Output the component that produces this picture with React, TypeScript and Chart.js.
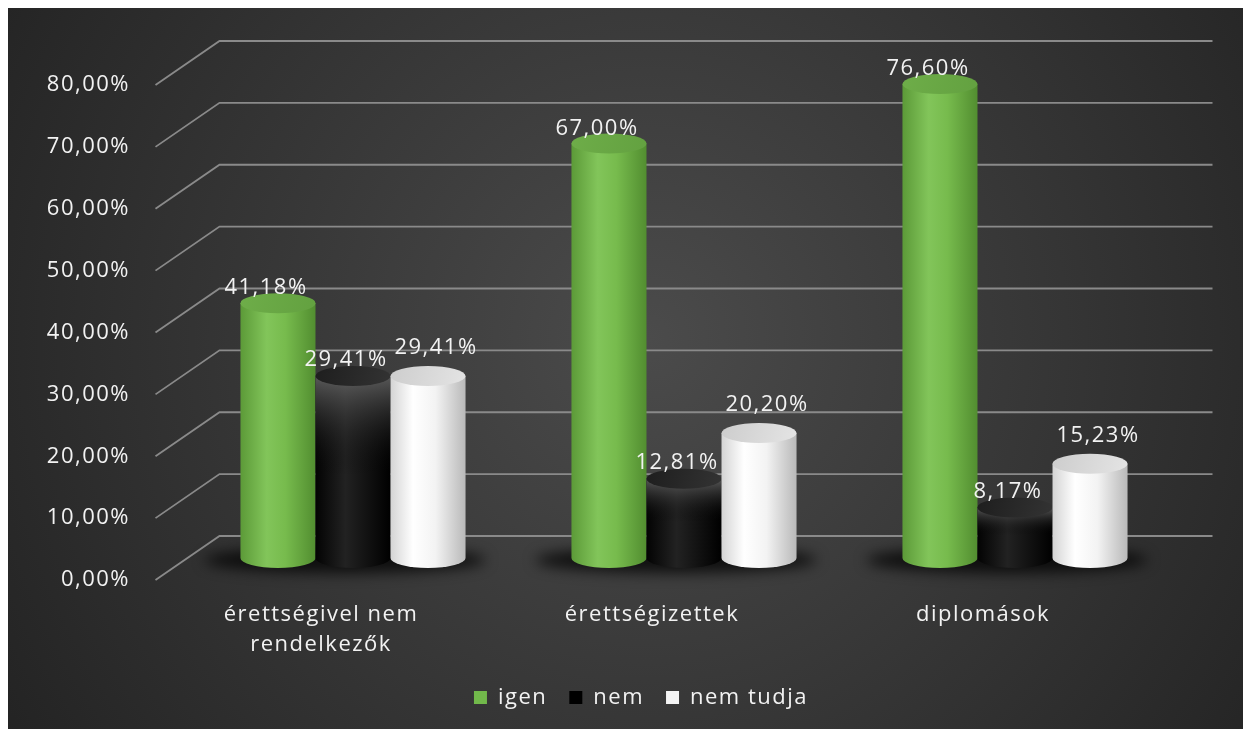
import React, { useEffect, useRef } from 'react';
import { Chart, registerables } from 'chart.js';

Chart.register(...registerables);

// ---- data ----
const categories: (string | string[])[] = [['érettségivel nem', 'rendelkezők'], 'érettségizettek', 'diplomások'];
const seriesNames = ['igen', 'nem', 'nem tudja'];
const igenValues = [41.18, 67.0, 76.6];
const nemValues = [29.41, 12.81, 8.17];
const nemTudjaValues = [29.41, 20.2, 15.23];
const yMin = 0;
const yMax = 80;
const yStep = 10;

// ---- styling ----
const FONT = '"Open Sans", Lato, sans-serif';
const FONT_SIZE = 22;
const LETTER_SPACING = '1.5px';
const TEXT = '#f2f2f2';
const DEPTH_X = 64;
const DEPTH_Y = 44;
const legendColors = ['#72b94b', '#000000', '#f4f4f4'];
const labelOffsets = [
  { dx: -12, dy: -15 },
  { dx: -7, dy: -16 },
  { dx: 8, dy: -28 },
];

const fmt = (v: number) => v.toFixed(2).replace('.', ',') + '%';

function bodyPath(ctx: CanvasRenderingContext2D, cx: number, top: number, base: number, rx: number, ry: number) {
  ctx.beginPath();
  ctx.moveTo(cx - rx, top);
  ctx.lineTo(cx - rx, base);
  ctx.ellipse(cx, base, rx, ry, 0, Math.PI, 0, true);
  ctx.lineTo(cx + rx, top);
  ctx.closePath();
}

function drawCylinder(ctx: CanvasRenderingContext2D, kind: number, cx: number, top: number, base: number, rx: number, ry: number) {
  const left = cx - rx;
  const right = cx + rx;
  ctx.save();
  bodyPath(ctx, cx, top, base, rx, ry);
  const h = ctx.createLinearGradient(left, 0, right, 0);
  let cap: CanvasGradient;
  if (kind === 0) {
    h.addColorStop(0, '#5c9a38');
    h.addColorStop(0.35, '#82c55a');
    h.addColorStop(0.6, '#77bb4d');
    h.addColorStop(1, '#528e30');
    ctx.fillStyle = h;
    ctx.fill();
    cap = ctx.createLinearGradient(left, top - ry, right, top + ry);
    cap.addColorStop(0, '#6ead49');
    cap.addColorStop(1, '#63a140');
  } else if (kind === 1) {
    h.addColorStop(0, '#030303');
    h.addColorStop(0.4, '#222222');
    h.addColorStop(1, '#000000');
    ctx.fillStyle = h;
    ctx.fill();
    const v = ctx.createLinearGradient(0, top, 0, top + (base - top) * 0.55);
    v.addColorStop(0, 'rgba(110,110,110,0.8)');
    v.addColorStop(1, 'rgba(0,0,0,0)');
    ctx.fillStyle = v;
    ctx.fill();
    cap = ctx.createLinearGradient(left, top - ry, right, top + ry);
    cap.addColorStop(0, '#1e1e1e');
    cap.addColorStop(1, '#333333');
  } else {
    h.addColorStop(0, '#d4d4d4');
    h.addColorStop(0.3, '#ffffff');
    h.addColorStop(0.6, '#f3f3f3');
    h.addColorStop(1, '#b9b9b9');
    ctx.fillStyle = h;
    ctx.fill();
    cap = ctx.createLinearGradient(left, top - ry, right, top + ry);
    cap.addColorStop(0, '#cdcdcd');
    cap.addColorStop(1, '#e4e4e4');
  }
  ctx.beginPath();
  ctx.ellipse(cx, top, rx, ry, 0, 0, Math.PI * 2);
  ctx.fillStyle = cap;
  ctx.fill();
  ctx.restore();
}

const scenePlugin = {
  id: 'scene3d',
  afterInit(chart: any) {
    chart.ctx.letterSpacing = LETTER_SPACING;
  },
  beforeDraw(chart: any) {
    const { ctx, width, height, chartArea } = chart;
    ctx.letterSpacing = LETTER_SPACING;
    ctx.save();
    const g = ctx.createRadialGradient(640, 330, 0, 640, 330, 760);
    g.addColorStop(0, '#4b4b4b');
    g.addColorStop(1, '#232323');
    ctx.fillStyle = g;
    ctx.fillRect(0, 0, width, height);

    const y = chart.scales.y;
    ctx.strokeStyle = '#8a8a8a';
    ctx.lineWidth = 1.8;
    y.ticks.forEach((t: any) => {
      const py = y.getPixelForValue(t.value);
      ctx.beginPath();
      ctx.moveTo(chartArea.left, py);
      ctx.lineTo(chartArea.left + DEPTH_X, py - DEPTH_Y);
      ctx.lineTo(chartArea.right + DEPTH_X, py - DEPTH_Y);
      ctx.stroke();
    });
    ctx.restore();
  },
  beforeDatasetsDraw(chart: any) {
    const { ctx } = chart;
    const metas = chart.data.datasets.map((_: any, i: number) => chart.getDatasetMeta(i));
    const mx = DEPTH_X / 2;
    const my = DEPTH_Y / 2;
    const ry = 10;
    const n = chart.data.labels.length;
    ctx.save();
    // shadows
    for (let i = 0; i < n; i++) {
      const first = metas[0].data[i];
      const last = metas[metas.length - 1].data[i];
      const l = first.x - first.width / 2 + mx;
      const r = last.x + last.width / 2 + mx;
      const base = first.base - my;
      ctx.save();
      ctx.filter = 'blur(7px)';
      ctx.fillStyle = 'rgba(0,0,0,0.75)';
      ctx.beginPath();
      ctx.ellipse((l + r) / 2 - 8, base + 2, (r - l) / 2 + 28, 13, 0, 0, Math.PI * 2);
      ctx.fill();
      ctx.restore();
    }
    // cylinders
    for (let i = 0; i < n; i++) {
      metas.forEach((m: any, k: number) => {
        const el = m.data[i];
        const cx = el.x + mx;
        drawCylinder(ctx, k, cx, el.y - my, el.base - my, el.width / 2, ry);
      });
    }
    // value labels
    ctx.font = `${FONT_SIZE}px ${FONT}`;
    ctx.fillStyle = TEXT;
    ctx.textAlign = 'center';
    ctx.textBaseline = 'middle';
    metas.forEach((m: any, k: number) => {
      const ds = chart.data.datasets[k];
      m.data.forEach((el: any, i: number) => {
        const o = labelOffsets[k];
        ctx.fillText(fmt(ds.data[i]), el.x + mx + o.dx, el.y - my + o.dy);
      });
    });
    ctx.restore();
    return false;
  },
};

export default function App() {
  const ref = useRef<HTMLCanvasElement>(null);
  useEffect(() => {
    document.documentElement.style.overflow = 'hidden';
    Chart.defaults.font.family = FONT;
    const chart = new Chart(ref.current as HTMLCanvasElement, {
      type: 'bar',
      data: {
        labels: categories as any,
        datasets: [
          { label: seriesNames[0], data: igenValues, backgroundColor: legendColors[0], borderWidth: 0 },
          { label: seriesNames[1], data: nemValues, backgroundColor: legendColors[1], borderWidth: 0 },
          { label: seriesNames[2], data: nemTudjaValues, backgroundColor: legendColors[2], borderWidth: 0 },
        ],
      },
      options: {
        responsive: false,
        animation: false,
        events: [],
        layout: { padding: { left: 23, right: 0, top: 77, bottom: 10.5 } },
        datasets: { bar: { categoryPercentage: 0.68, barPercentage: 1.0 } },
        plugins: {
          tooltip: { enabled: false },
          legend: {
            position: 'bottom',
            labels: {
              color: TEXT,
              font: { family: FONT, size: FONT_SIZE },
              boxWidth: 13,
              boxHeight: 13,
              padding: 22,
            },
          },
        },
        scales: {
          x: {
            grid: { display: false, drawTicks: false },
            border: { display: false },
            ticks: { color: TEXT, font: { family: FONT, size: FONT_SIZE, lineHeight: 1.36 }, padding: 20, maxRotation: 0, autoSkip: false },
            afterFit: (s: any) => { s.height = 84.5; },
          },
          y: {
            min: yMin,
            max: yMax,
            grid: { display: false, drawTicks: false },
            border: { display: false },
            ticks: {
              stepSize: yStep,
              color: TEXT,
              font: { family: FONT, size: FONT_SIZE },
              padding: 25.5,
              callback: (v: any) => fmt(Number(v)),
            },
            afterFit: (s: any) => { s.width = 124.5; },
          },
          yRight: {
            type: 'linear',
            position: 'right',
            display: true,
            grid: { display: false, drawTicks: false },
            border: { display: false },
            ticks: { display: false },
            afterFit: (s: any) => { s.width = 102.5; },
          },
        },
      } as any,
      plugins: [scenePlugin],
    });
    return () => chart.destroy();
  }, []);
  return <canvas ref={ref} width={1243} height={721} style={{ display: 'block' }} />;
}
